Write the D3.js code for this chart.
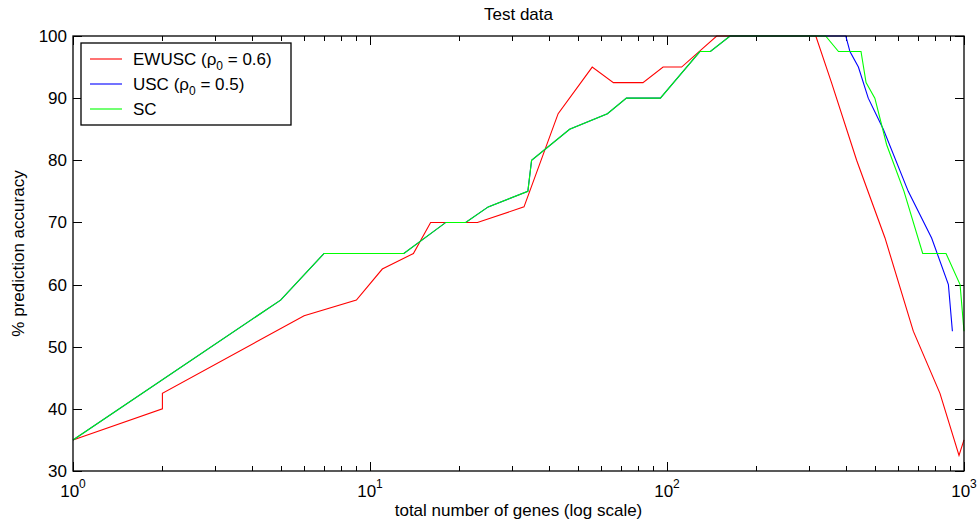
<!DOCTYPE html>
<html>
<head>
<meta charset="utf-8">
<script src="https://cdn.jsdelivr.net/npm/d3@7"></script>
<style>
  body { margin: 0; background: #fff; }
  svg { display: block; font-family: "Liberation Sans", Arial, sans-serif; }
  .axis path, .axis line { stroke: #000; shape-rendering: crispEdges; }
  .axis text { font-size: 17px; fill: #000; }
</style>
</head>
<body>
<div id="chart"></div>
<script>
// data (x = number of genes, y = % accuracy)
const ewuscX = [1, 2, 2, 6, 9, 11, 14, 16, 23, 33, 43, 56, 66, 83, 97, 112, 147, 317, 358, 435, 542, 675, 830, 962, 1000];
const ewuscY = [35, 40, 42.5, 55, 57.5, 62.5, 65, 70, 70, 72.5, 87.5, 95, 92.5, 92.5, 95, 95, 100, 100, 92.5, 80, 67.5, 52.5, 42.5, 32.5, 35];

const uscX = [1, 5, 7, 13, 18, 21, 25, 34, 35, 47, 63, 73, 95, 129, 140, 163, 400, 413, 441, 476, 535, 649, 778, 886, 914];
const uscY = [35, 57.5, 65, 65, 70, 70, 72.5, 75, 80, 85, 87.5, 90, 90, 97.5, 97.5, 100, 100, 97.5, 95, 90, 85, 75, 67.5, 60, 52.5];

const scX = [1, 5, 7, 13, 18, 21, 25, 34, 35, 47, 63, 73, 95, 129, 140, 163, 342, 378, 450, 468, 501, 549, 628, 726, 870, 970, 1000];
const scY = [35, 57.5, 65, 65, 70, 70, 72.5, 75, 80, 85, 87.5, 90, 90, 97.5, 97.5, 100, 100, 97.5, 97.5, 92.5, 90, 82.5, 75, 65, 65, 60, 52.5];

const yTicks = [30, 40, 50, 60, 70, 80, 90, 100];
const decades = [1, 10, 100, 1000];
const exponents = ["0", "1", "2", "3"];

const series = [
  { name: "EWUSC", sub: "0", val: " = 0.6)", xs: ewuscX, ys: ewuscY, color: "#ff0000" },
  { name: "USC", sub: "0", val: " = 0.5)", xs: uscX, ys: uscY, color: "#0000ff" },
  { name: "SC", xs: scX, ys: scY, color: "#00ff00" }
];

const W = 979, H = 525;
const plotL = 73, plotR = 964, plotT = 36, plotB = 471;

const svg = d3.select("#chart").append("svg").attr("width", W).attr("height", H);

const x = d3.scaleLog().domain([1, 1000]).range([plotL, plotR]);
const y = d3.scaleLinear().domain([30, 100]).range([plotB, plotT]);

// minor log ticks 2..9 in each decade
const minor = [];
decades.slice(0, 3).forEach(d => { for (let k = 2; k <= 9; k++) minor.push(d * k); });

// ticks point inward on all four sides
svg.append("g").attr("class", "axis")
  .attr("transform", `translate(0,${plotB})`)
  .call(d3.axisBottom(x).tickValues(minor).tickSize(-5).tickFormat(""));
svg.append("g").attr("class", "axis")
  .attr("transform", `translate(0,${plotB})`)
  .call(d3.axisBottom(x).tickValues(decades).tickSize(-9).tickFormat(""));
svg.append("g").attr("class", "axis")
  .attr("transform", `translate(0,${plotT})`)
  .call(d3.axisTop(x).tickValues(minor).tickSize(-5).tickFormat(""));
svg.append("g").attr("class", "axis")
  .attr("transform", `translate(0,${plotT})`)
  .call(d3.axisTop(x).tickValues(decades).tickSize(-9).tickFormat(""));

svg.append("g").attr("class", "axis")
  .attr("transform", `translate(${plotL},0)`)
  .call(d3.axisLeft(y).tickValues(yTicks).tickSize(-9).tickPadding(6).tickFormat(d3.format("d")));
svg.append("g").attr("class", "axis")
  .attr("transform", `translate(${plotR},0)`)
  .call(d3.axisRight(y).tickValues(yTicks).tickSize(-9).tickFormat(""));

svg.selectAll(".axis .domain").remove();

// x tick labels: 10 with superscript exponent
const xl = svg.append("g").attr("class", "axis");
decades.forEach((d, i) => {
  const t = xl.append("text")
    .attr("x", x(d)).attr("y", plotB + 26)
    .attr("text-anchor", "middle");
  t.append("tspan").text("10");
  t.append("tspan").attr("dy", -9).attr("font-size", "12px").text(exponents[i]);
});

// lines
const line = d3.line().x(d => x(d[0])).y(d => y(d[1]));
series.forEach(s => {
  svg.append("path")
    .datum(s.xs.map((v, i) => [v, s.ys[i]]))
    .attr("fill", "none")
    .attr("stroke", s.color)
    .attr("stroke-width", 1.1)
    .attr("d", line);
});

// frame
svg.append("rect")
  .attr("x", plotL).attr("y", plotT)
  .attr("width", plotR - plotL).attr("height", plotB - plotT)
  .attr("fill", "none").attr("stroke", "#000").attr("stroke-width", 1.3);

// titles
svg.append("text").attr("x", (plotL + plotR) / 2).attr("y", 20)
  .attr("text-anchor", "middle").attr("font-size", "17px").text("Test data");
svg.append("text").attr("x", (plotL + plotR) / 2).attr("y", 516)
  .attr("text-anchor", "middle").attr("font-size", "17px").text("total number of genes (log scale)");
svg.append("text")
  .attr("transform", `translate(24,${(plotT + plotB) / 2}) rotate(-90)`)
  .attr("text-anchor", "middle").attr("font-size", "17px").text("% prediction accuracy");

// legend
const lg = svg.append("g").attr("transform", "translate(81,43)");
lg.append("rect").attr("width", 210).attr("height", 82)
  .attr("fill", "#fff").attr("stroke", "#000").attr("stroke-width", 1.3);
series.forEach((s, i) => {
  const yy = 16 + i * 25;
  lg.append("line").attr("x1", 9).attr("x2", 41).attr("y1", yy).attr("y2", yy)
    .attr("stroke", s.color).attr("stroke-width", 1.1);
  const t = lg.append("text").attr("x", 52).attr("y", yy + 6).attr("font-size", "17px");
  t.append("tspan").text(s.name);
  if (s.sub) {
    t.append("tspan").text(" (\u03c1");
    t.append("tspan").attr("dy", 5).attr("font-size", "12px").text(s.sub);
    t.append("tspan").attr("dy", -5).text(s.val);
  }
});
</script>
</body>
</html>
